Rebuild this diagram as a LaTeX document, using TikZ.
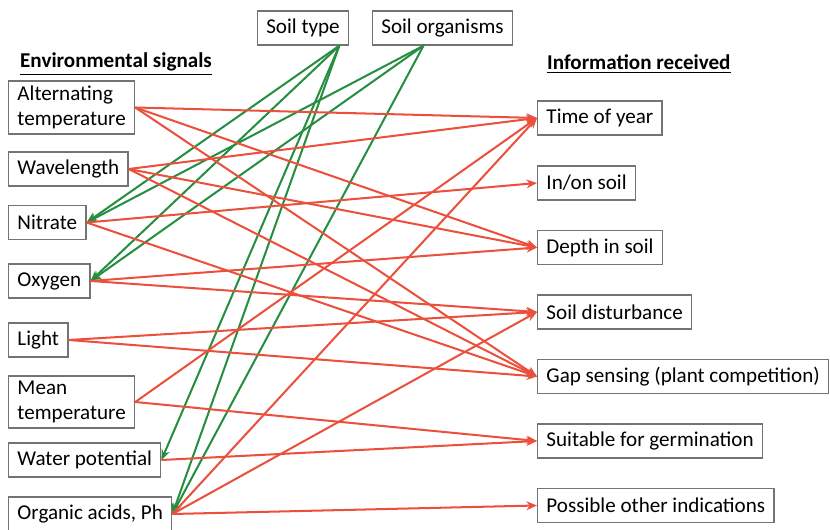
\documentclass[tikz,border=0pt]{standalone}
\usepackage{fontspec}
\setmainfont{Carlito}
\usetikzlibrary{arrows.meta}
\definecolor{linkred}{RGB}{236,80,60}
\definecolor{linkgreen}{RGB}{38,142,64}
\definecolor{boxgray}{RGB}{115,115,115}

\begin{document}
\begin{tikzpicture}[
    font=\fontsize{12}{14}\selectfont,
    box/.style={draw=boxgray,line width=0.8pt,anchor=west,align=left,
        inner xsep=5pt,inner ysep=3pt,minimum height=0.68cm},
    heading/.style={anchor=west,font=\fontsize{12}{14}\selectfont\bfseries},
    redlink/.style={-{Stealth[length=6pt,width=5pt]},line width=1.15pt,linkred},
    greenlink/.style={-{Stealth[length=6pt,width=5pt]},line width=1.15pt,linkgreen}
]
    \useasboundingbox (0,0) rectangle (16.6,10.6);

    % Headings
    \node[heading] (envhead) at (0.28,9.32) {\underline{Environmental signals}};
    \node[heading] (infohead) at (10.82,9.32) {\underline{Information received}};

    % Soil boxes
    \node[box,anchor=center] (soiltype) at (6.06,10.04) {Soil type};
    \node[box,anchor=center] (soilorg) at (8.85,10.04) {Soil organisms};

    % Environmental signals
    \node[box] (alt) at (0.16,8.45) {Alternating\\temperature};
    \node[box] (wave) at (0.16,7.22) {Wavelength};
    \node[box] (nitrate) at (0.16,6.15) {Nitrate};
    \node[box] (oxygen) at (0.16,4.98) {Oxygen};
    \node[box] (light) at (0.16,3.80) {Light};
    \node[box] (meantemp) at (0.16,2.56) {Mean\\temperature};
    \node[box] (water) at (0.16,1.40) {Water potential};
    \node[box] (organic) at (0.16,0.32) {Organic acids, Ph};

    % Information received
    \node[box] (time) at (10.74,8.24) {Time of year};
    \node[box] (inon) at (10.74,6.94) {In/on soil};
    \node[box] (depth) at (10.74,5.65) {Depth in soil};
    \node[box] (disturb) at (10.74,4.36) {Soil disturbance};
    \node[box] (gap) at (10.74,3.07) {Gap sensing (plant competition)};
    \node[box] (suitable) at (10.74,1.78) {Suitable for germination};
    \node[box] (other) at (10.74,0.49) {Possible other indications};

    % Green links
    \foreach \to in {nitrate,oxygen,water,organic}
        \draw[greenlink] (soiltype.-26) -- (\to.east);
    \foreach \to in {nitrate,oxygen,organic}
        \draw[greenlink] (soilorg.-137) -- (\to.east);

    % Red links
    \foreach \from/\to in {alt/time,alt/depth,alt/gap,
        wave/time,wave/depth,wave/gap,
        nitrate/inon,nitrate/gap,
        oxygen/depth,oxygen/disturb,
        light/disturb,light/gap,
        meantemp/time,meantemp/suitable,
        water/suitable,
        organic/time,organic/disturb,organic/other}
        \draw[redlink] (\from.east) -- (\to.west);
\end{tikzpicture}
\end{document}
